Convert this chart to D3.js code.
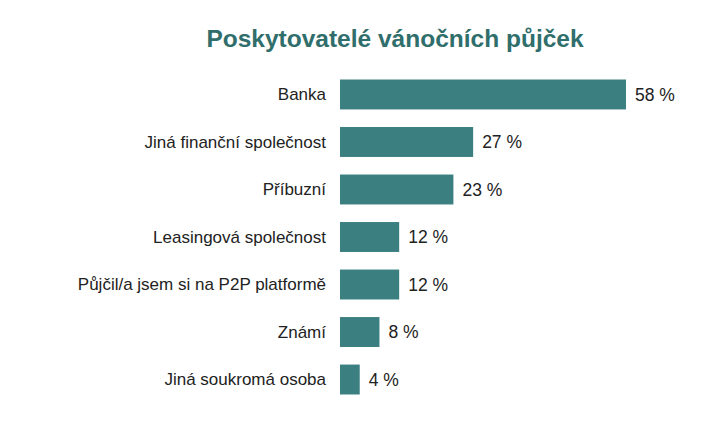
<!DOCTYPE html>
<html><head><meta charset="utf-8">
<script src="https://cdn.jsdelivr.net/npm/d3@7"></script>
<style>body{margin:0;background:#fff;}</style>
</head><body>
<svg id="c" width="720" height="425"></svg>
<script>
const categories = ["Banka","Jiná finanční společnost","Příbuzní","Leasingová společnost","Půjčil/a jsem si na P2P platformě","Známí","Jiná soukromá osoba"];
const values = [58,27,23,12,12,8,4];
const title = "Poskytovatelé vánočních půjček";

const svg = d3.select("#c");
const x = d3.scaleLinear().domain([0,58]).range([340,626]);
const y = d3.scaleBand().domain(categories).range([70,404]).paddingInner(0.37).paddingOuter(0.2);

svg.append("text").attr("x",395).attr("y",47).attr("text-anchor","middle")
  .attr("font-family","Liberation Sans, Arial, sans-serif").attr("font-weight","bold")
  .attr("font-size",24.5).attr("fill","#2f6e6b").text(title);

const g = svg.append("g");
g.selectAll("rect").data(values).join("rect")
  .attr("x",x(0)).attr("y",(d,i)=>y(categories[i]))
  .attr("width",d=>x(d)-x(0)).attr("height",y.bandwidth()).attr("fill","#3b7f80");
g.selectAll("text.v").data(values).join("text").attr("class","v")
  .attr("x",d=>x(d)+9).attr("y",(d,i)=>y(categories[i])+y.bandwidth()/2)
  .attr("dy","0.35em").attr("font-family","Liberation Sans, Arial, sans-serif")
  .attr("font-size",17.5).attr("fill","#222").text(d=>d+" %");
g.selectAll("text.c").data(categories).join("text").attr("class","c")
  .attr("x",326).attr("y",d=>y(d)+y.bandwidth()/2).attr("dy","0.35em")
  .attr("text-anchor","end").attr("font-family","Liberation Sans, Arial, sans-serif")
  .attr("font-size",17).attr("fill","#222").text(d=>d);
</script>
</body></html>
